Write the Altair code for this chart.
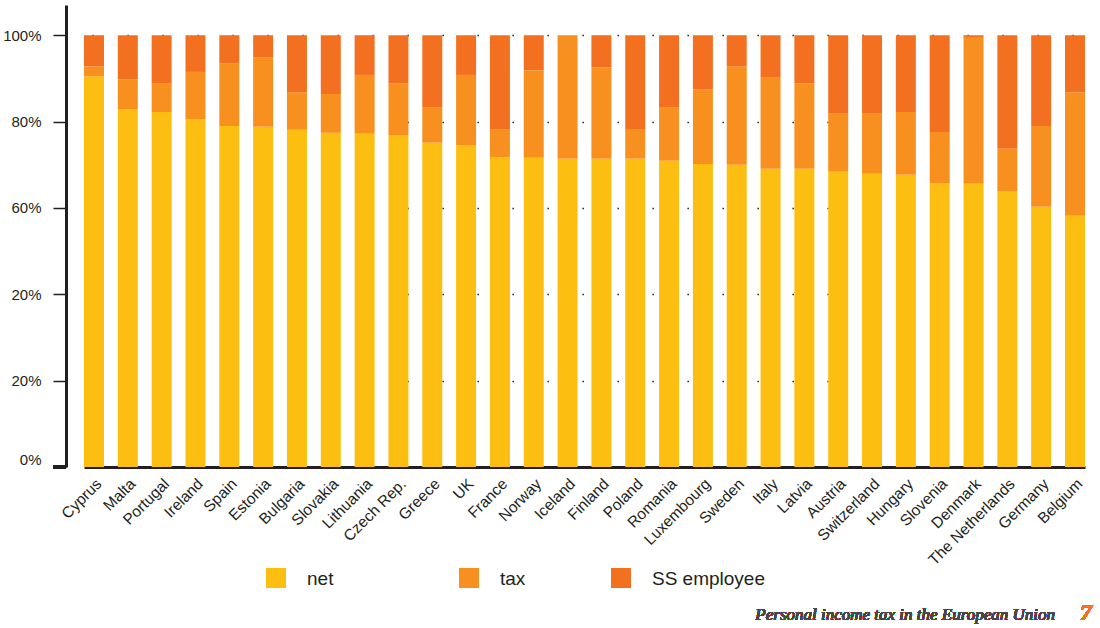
import altair as alt
import pandas as pd

countries = ["Cyprus", "Malta", "Portugal", "Ireland", "Spain", "Estonia", "Bulgaria", "Slovakia",
             "Lithuania", "Czech Rep.", "Greece", "UK", "France", "Norway", "Iceland", "Finland",
             "Poland", "Romania", "Luxembourg", "Sweden", "Italy", "Latvia", "Austria", "Switzerland",
             "Hungary", "Slovenia", "Denmark", "The Netherlands", "Germany", "Belgium"]
net = [90.5, 82.9, 82.2, 80.6, 79.0, 78.8, 78.1, 77.4, 77.2, 76.9, 75.1, 74.6, 71.8, 71.6, 71.4,
       71.4, 71.4, 70.9, 70.2, 70.0, 69.1, 69.1, 68.4, 67.9, 67.7, 65.8, 65.6, 63.8, 60.3, 58.2]
tax = [2.3, 6.9, 6.7, 10.9, 14.5, 16.1, 8.7, 9.0, 13.6, 12.0, 8.1, 16.2, 6.3, 20.3, 28.6,
       21.2, 6.9, 12.3, 17.3, 22.8, 21.2, 19.8, 13.6, 14.1, 14.5, 11.8, 33.8, 9.9, 18.7, 28.6]
ss = [7.2, 10.2, 11.1, 8.5, 6.5, 5.1, 13.2, 13.6, 9.2, 11.1, 16.8, 9.2, 21.9, 8.1, 0.0,
      7.4, 21.7, 16.8, 12.5, 7.2, 9.7, 11.1, 18.0, 18.0, 17.8, 22.4, 0.6, 26.3, 21.0, 13.2]
series = ["net", "tax", "SS employee"]
colors = ["#FDBE12", "#F8901F", "#F37021"]
y_ticks = [0, 20, 40, 60, 80, 100]

rows = []
for i, c in enumerate(countries):
    for k, (s, vals) in enumerate(zip(series, [net, tax, ss])):
        rows.append({"country": c, "series": s, "value": vals[i], "order": k})
df = pd.DataFrame(rows)
legend_df = pd.DataFrame({"series": series, "idx": list(range(len(series)))})

ink = "#231F20"
color_scale = alt.Scale(domain=series, range=colors)

bars = alt.Chart(df).mark_bar().encode(
    x=alt.X("country:N", sort=countries, title=None,
            scale=alt.Scale(range=[18, 1019], paddingInner=0.409, paddingOuter=0),
            axis=alt.Axis(labelAngle=-45, labelFont="Liberation Sans", labelFontSize=15.5,
                          labelColor=ink, ticks=False, labelPadding=9, domainWidth=3,
                          domainColor=ink, grid=False)),
    y=alt.Y("value:Q", stack="zero", title=None,
            scale=alt.Scale(domain=[0, 107], nice=False),
            axis=alt.Axis(values=y_ticks,
                          labelExpr="datum.value == 40 ? '20%' : datum.value + '%'",
                          labelFont="Liberation Sans", labelFontSize=15, labelColor=ink,
                          labelPadding=12, tickSize=13, tickWidth=1.5, tickColor=ink,
                          domainWidth=3, domainColor=ink,
                          labelBaseline={"condition": {"test": "datum.value === 0", "value": "bottom"}, "value": "middle"},
                          grid=True, gridColor="#000000", gridWidth=1.3,
                          gridDash=[1.3, 33.7], gridDashOffset=27)),
    color=alt.Color("series:N", sort=series, scale=color_scale, legend=None),
    order=alt.Order("order:Q"),
)

legend_x = alt.X("idx:Q", axis=None,
                 scale=alt.Scale(domain=[0, 1, 2], range=[210, 403, 555], nice=False, zero=False))

legend_sym = alt.Chart(legend_df).mark_square(size=400, opacity=1).encode(
    x=legend_x, y=alt.value(573),
    color=alt.Color("series:N", scale=color_scale, legend=None),
)
legend_txt = alt.Chart(legend_df).mark_text(
    align="left", baseline="middle", dx=31, font="Liberation Sans", fontSize=19, color=ink
).encode(x=legend_x, y=alt.value(574), text="series:N")

base_axis = alt.Chart(df).mark_rule(color=ink, strokeWidth=3).encode(
    x=alt.value(-13), x2=alt.value(0), y=alt.value(462)
)

footer = alt.Chart(df).mark_text(
    text="Personal income tax in the European Union", font="Liberation Serif",
    fontStyle="italic", fontWeight="normal", fontSize=17, color="#4a4546", align="right",
    baseline="alphabetic"
).encode(x=alt.value(989), y=alt.value(615))

page = alt.Chart(df).mark_text(
    text="7", font="Liberation Serif", fontStyle="italic", fontWeight="bold", fontSize=24,
    color="#F37021", align="center", baseline="alphabetic"
).encode(x=alt.value(1020), y=alt.value(615))

chart = alt.layer(bars, base_axis, footer, page, legend_sym, legend_txt).resolve_scale(
    x="independent"
).properties(
    width=1024, height=462,
    padding={"left": 66, "top": 5, "right": 10, "bottom": 161},
    autosize=alt.AutoSizeParams(type="none"),
).configure_view(stroke=None)

chart.save("out.html", embed_options={"renderer": "svg", "actions": False})
